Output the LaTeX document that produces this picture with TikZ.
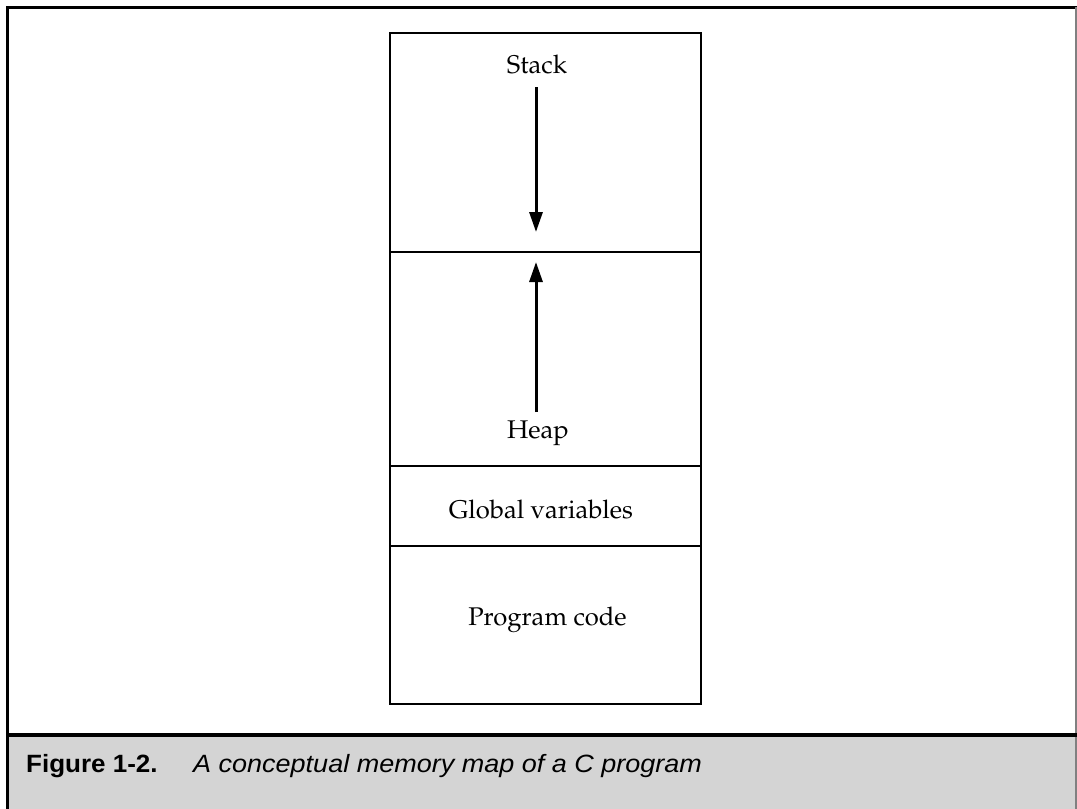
\documentclass[tikz,border=0pt]{standalone}
\usepackage{fontspec}
\usetikzlibrary{arrows.meta}
\newfontfamily\capfont{Liberation Sans}
\newcommand\palfont{\fontencoding{OT1}\fontfamily{ppl}\selectfont}
\definecolor{capgray}{HTML}{D4D4D4}
\tikzset{
  seglabel/.style={font=\palfont\fontsize{25.6}{30}\selectfont, inner sep=0pt, anchor=base},
  boxline/.style={line width=2.5pt},
  growarrow/.style={line width=3pt, -{Triangle[length=20pt,width=13pt]}},
  captext/.style={anchor=base west, inner sep=0pt},
}
\begin{document}
\begin{tikzpicture}[x=1pt,y=-1pt]
\useasboundingbox (0,0) rectangle (1077,809);
\fill[white] (0,0) rectangle (1077,809);
\fill[capgray] (7,735) rectangle (1077,809);
\draw[line width=3pt] (7,809) -- (7,7) -- (1077,7);
\draw[line width=1.5pt, gray] (1076,7) -- (1076,809);
\draw[line width=4pt] (7,735) -- (1077,735);
% memory map
\draw[boxline] (390,33) rectangle (701,704);
\draw[boxline] (390,252) -- (701,252);
\draw[boxline] (390,466) -- (701,466);
\draw[boxline] (390,546) -- (701,546);
\node[seglabel] (stack) at (537,73) {Stack};
\node[seglabel] (heap) at (538,438) {Heap};
\node[seglabel] (glob) at (541,518) {Global variables};
\node[seglabel] (prog) at (547.5,625) {Program code};
\coordinate (stackfrom) at (536,87);
\coordinate (stacktip) at (536,232);
\coordinate (heapfrom) at (536,412);
\coordinate (heaptip) at (536,262);
\draw[growarrow] (stackfrom) -- (stacktip);
\draw[growarrow] (heapfrom) -- (heaptip);
% caption
\node[captext] (fig) at (26,772) {\capfont\fontsize{25}{28}\selectfont\bfseries\scalebox{1.04}[1]{Figure 1-2.}};
\node[captext] (captxt) at (193,772) {\capfont\fontsize{25}{28}\selectfont\itshape\scalebox{1.08}[1]{A conceptual memory map of a C program}};
\end{tikzpicture}
\end{document}
